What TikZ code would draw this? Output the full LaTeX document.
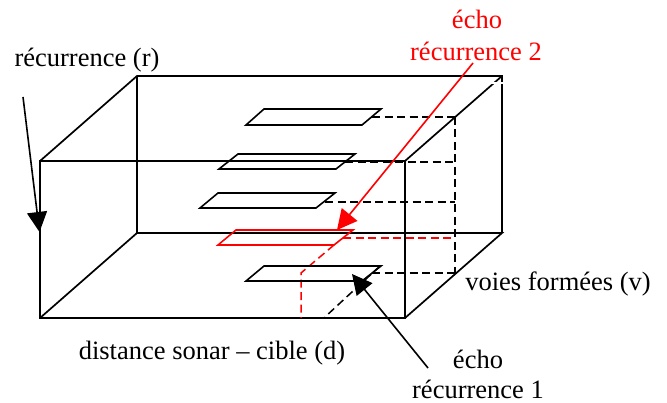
\documentclass[tikz,border=0pt]{standalone}
\usepackage{fontspec}
\setmainfont{Liberation Serif}
\usetikzlibrary{arrows.meta}
\tikzset{x=1pt,y=-1pt,
 edge/.style={black,line width=1.7pt,line join=miter},
 dsh/.style={black,line width=1.5pt,dash pattern=on 8pt off 4.5pt},
 rdsh/.style={red,line width=1.5pt,dash pattern=on 8pt off 4.5pt},
 plate/.style={black,line width=1.6pt},
 rplate/.style={red,line width=1.6pt},
 arr/.style={line width=1.6pt,-{Triangle[length=20pt,width=20pt]}},
 lab/.style={font=\fontsize{26.5}{30}\selectfont,inner sep=0pt,anchor=base}}
\begin{document}
\begin{tikzpicture}
\useasboundingbox (0,0) rectangle (667,403);
\coordinate (ftl) at (40,161);
\coordinate (ftr) at (405,161);
\coordinate (fbl) at (40,318);
\coordinate (fbr) at (405,318);
\coordinate (btl) at (137,76);
\coordinate (btr) at (502,76);
\coordinate (bbl) at (137,233);
\coordinate (bbr) at (502,233);
\coordinate (mt) at (455,117);
\coordinate (mb) at (455,273);
% box
\draw[edge] (ftl) rectangle (fbr);
\draw[edge] (ftl) -- (btl) -- (btr) -- (bbr);
\draw[edge] (btl) -- (bbl) -- (bbr) -- (fbr);
\draw[edge] (fbl) -- (bbl);
\draw[edge] (ftr) -- (btr);
\draw[white,line width=2.5pt] (490,83) -- (504,83);
% dashed
\draw[dsh] (mt) -- (mb);
\draw[dsh] (372,117) -- (mt);
\draw[dsh] (345,162) -- (455,162);
\draw[dsh] (325,202) -- (455,202);
\draw[dsh] (372,273) -- (mb);
\draw[dsh] (380,266) -- (325,317);
\draw[rdsh] (343,238) -- (455,238);
\draw[rdsh] (334,245) -- (301,273) -- (301,318);
% plates
\draw[plate] (246,125) -- (264,109) -- (381,109) -- (362,125) -- cycle;
\draw[plate] (219,169) -- (238,154) -- (355,154) -- (336,169) -- cycle;
\draw[plate] (200,208) -- (218,193) -- (335,193) -- (316,208) -- cycle;
\draw[rplate] (218,245) -- (236,230) -- (353,230) -- (334,245) -- cycle;
\draw[plate] (246,281) -- (264,266) -- (381,266) -- (362,281) -- cycle;
% arrows
\coordinate (a1) at (23,97);
\coordinate (a2) at (39.5,232);
\coordinate (r1) at (473,63);
\coordinate (r2) at (337,230);
\coordinate (e1) at (428,368);
\coordinate (e2) at (352,274);
\draw[arr] (a1) -- (a2);
\draw[arr,red] (r1) -- (r2);
\draw[arr] (e1) -- (e2);
% labels
\node[lab] (t1) at (87,66.5) {récurrence (r)};
\node[lab,red] (t2) at (477,29) {écho};
\node[lab,red] (t3) at (476,61) {récurrence 2};
\node[lab] (t4) at (212,359.5) {distance sonar – cible (d)};
\node[lab] (t5) at (558,291) {voies formées (v)};
\node[lab] (t6) at (478,369) {écho};
\node[lab] (t7) at (478,398.5) {récurrence 1};
\end{tikzpicture}
\end{document}
